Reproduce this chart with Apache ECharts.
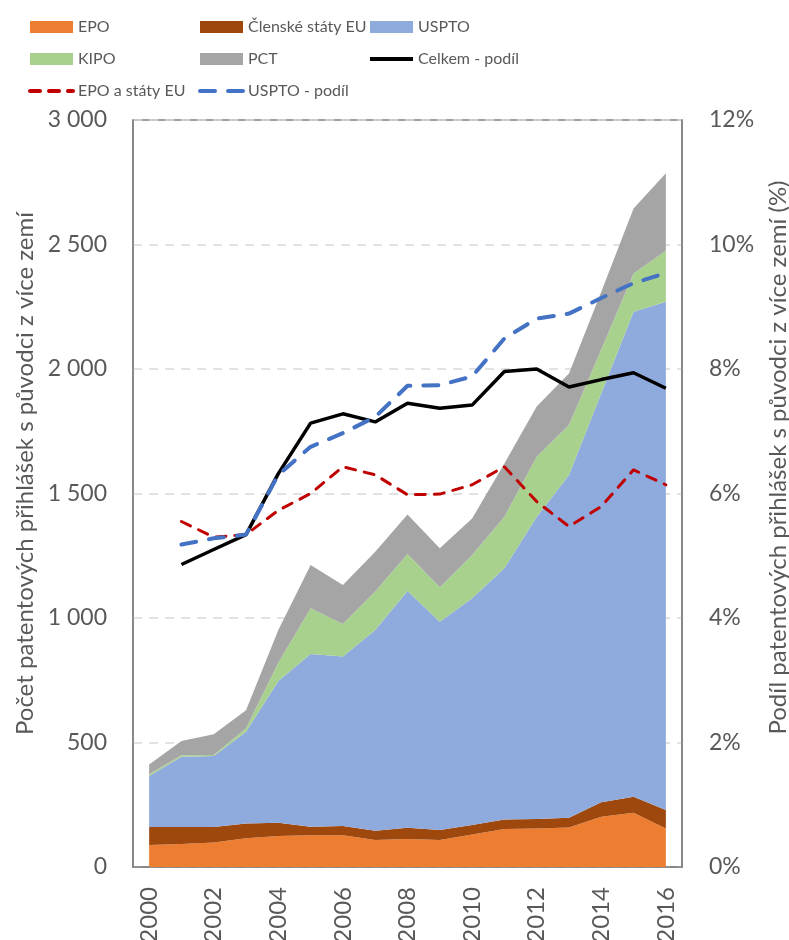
<!DOCTYPE html>
<html>
<head>
<meta charset="utf-8">
<script src="https://cdn.jsdelivr.net/npm/echarts@6/dist/echarts.min.js"></script>
<style>
  html, body { margin: 0; padding: 0; background: #fff; }
  #chart { width: 789px; height: 940px; }
</style>
</head>
<body>
<div id="chart"></div>
<script>
// roky
const years = ['2000', '2001', '2002', '2003', '2004', '2005', '2006', '2007', '2008',
  '2009', '2010', '2011', '2012', '2013', '2014', '2015', '2016'];

// počty přihlášek (skládané plochy)
const epo = [88, 92, 98, 115, 124, 128, 128, 108, 112, 108, 131, 153, 155, 159, 202, 218, 155];
const clenske = [73, 69, 63, 60, 54, 34, 37, 38, 46, 41, 38, 38, 38, 39, 58, 64, 74];
const uspto = [204, 282, 285, 368, 569, 693, 680, 806, 950, 836, 910, 1009, 1213, 1376, 1643, 1948, 2041];
const kipo = [7, 6, 4, 14, 73, 184, 131, 154, 149, 138, 174, 207, 242, 201, 175, 154, 205];
const pct = [40, 57, 83, 73, 132, 174, 157, 160, 159, 157, 147, 213, 201, 207, 232, 261, 311];

// podíly v %
const celkem = [null, 4.86, 5.10, 5.34, 6.32, 7.13, 7.28, 7.15, 7.45, 7.37, 7.42, 7.96, 8.00, 7.71, 7.83, 7.94, 7.69];
const epoEu = [null, 5.55, 5.30, 5.34, 5.73, 6.00, 6.43, 6.30, 5.98, 5.99, 6.14, 6.43, 5.87, 5.47, 5.79, 6.38, 6.14];
const usptoPodil = [null, 5.18, 5.28, 5.34, 6.30, 6.75, 6.97, 7.23, 7.73, 7.74, 7.88, 8.49, 8.81, 8.89, 9.14, 9.38, 9.54];

const FONT = 'Lato';
const GREY = '#595959';

let myChart = echarts.init(document.getElementById('chart'));

function area(name, data, color) {
  return {
    name: name,
    type: 'line',
    stack: 'pocet',
    data: data,
    symbol: 'none',
    lineStyle: { width: 0 },
    itemStyle: { color: color },
    areaStyle: { color: color, opacity: 1 },
    z: 2
  };
}

function share(name, data, color, type, width) {
  return {
    name: name,
    type: 'line',
    yAxisIndex: 1,
    data: data,
    symbol: 'none',
    itemStyle: { color: color },
    lineStyle: { color: color, width: width, type: type, cap: type === 'solid' ? 'butt' : 'round' },
    z: 5
  };
}

// legenda - položky ploch jako obdélník, čáry bez bodu
const rect = name => ({ name: name, icon: 'rect' });
const lineItem = name => ({ name: name, itemStyle: { opacity: 0 }, lineStyle: { width: 4 } });

const legendBase = {
  orient: 'vertical',
  top: 14,
  itemWidth: 43,
  itemHeight: 12,
  itemGap: 16,
  textStyle: { fontFamily: FONT, fontSize: 16, color: GREY },
  selectedMode: false
};

let option = {
  animation: false,
  textStyle: { fontFamily: FONT },
  legend: [
    Object.assign({}, legendBase, { left: 23, data: [rect('EPO'), rect('KIPO'), lineItem('EPO a státy EU')] }),
    Object.assign({}, legendBase, { left: 193, data: [rect('Členské státy EU'), rect('PCT'), lineItem('USPTO - podíl')] }),
    Object.assign({}, legendBase, { left: 363, data: [rect('USPTO'), lineItem('Celkem - podíl')] })
  ],
  grid: {
    left: 133, right: 107, top: 120, bottom: 73,
    outerBoundsMode: 'none',
    show: true, borderColor: '#808080', borderWidth: 1.5
  },
  xAxis: {
    type: 'category',
    data: years,
    boundaryGap: true,
    axisLine: { lineStyle: { color: '#808080', width: 1.5 } },
    axisTick: { show: false },
    axisLabel: { rotate: 90, interval: 1, margin: 20, fontSize: 24, color: GREY, fontFamily: FONT }
  },
  yAxis: [
    {
      type: 'value',
      min: 0, max: 3000, interval: 500,
      name: 'Počet patentových přihlášek s původci z více zemí',
      nameLocation: 'middle',
      nameGap: 83,
      nameTextStyle: { fontSize: 24, color: GREY, fontFamily: FONT, padding: [0, 0, 0, 40] },
      axisLine: { show: true, lineStyle: { color: '#808080', width: 1.5 } },
      axisTick: { show: false },
      axisLabel: {
        margin: 26, fontSize: 23, color: GREY, fontFamily: FONT,
        formatter: v => String(v).replace(/\B(?=(\d{3})+(?!\d))/g, ' ')
      },
      splitLine: { lineStyle: { color: '#D9D9D9', width: 1.5, type: [9, 7] } }
    },
    {
      type: 'value',
      min: 0, max: 12, interval: 2,
      name: 'Podíl patentových přihlášek s původci z více zemí (%)',
      nameLocation: 'middle',
      nameGap: 84,
      nameTextStyle: { fontSize: 24, color: GREY, fontFamily: FONT, padding: [0, 0, 0, 72] },
      axisLine: { show: true, lineStyle: { color: '#808080', width: 1.5 } },
      axisTick: { show: false },
      axisLabel: { margin: 27, fontSize: 23, color: GREY, fontFamily: FONT, formatter: '{value}%' },
      splitLine: { show: false }
    }
  ],
  series: [
    area('EPO', epo, '#ED7D31'),
    area('Členské státy EU', clenske, '#9E480E'),
    area('USPTO', uspto, '#8FAADC'),
    area('KIPO', kipo, '#A9D18E'),
    area('PCT', pct, '#A5A5A5'),
    share('Celkem - podíl', celkem, '#000000', 'solid', 3.5),
    share('EPO a státy EU', epoEu, '#C00000', [10, 9], 3),
    share('USPTO - podíl', usptoPodil, '#4472C4', [15, 13], 4)
  ]
};

myChart.setOption(option);
</script>
</body>
</html>
